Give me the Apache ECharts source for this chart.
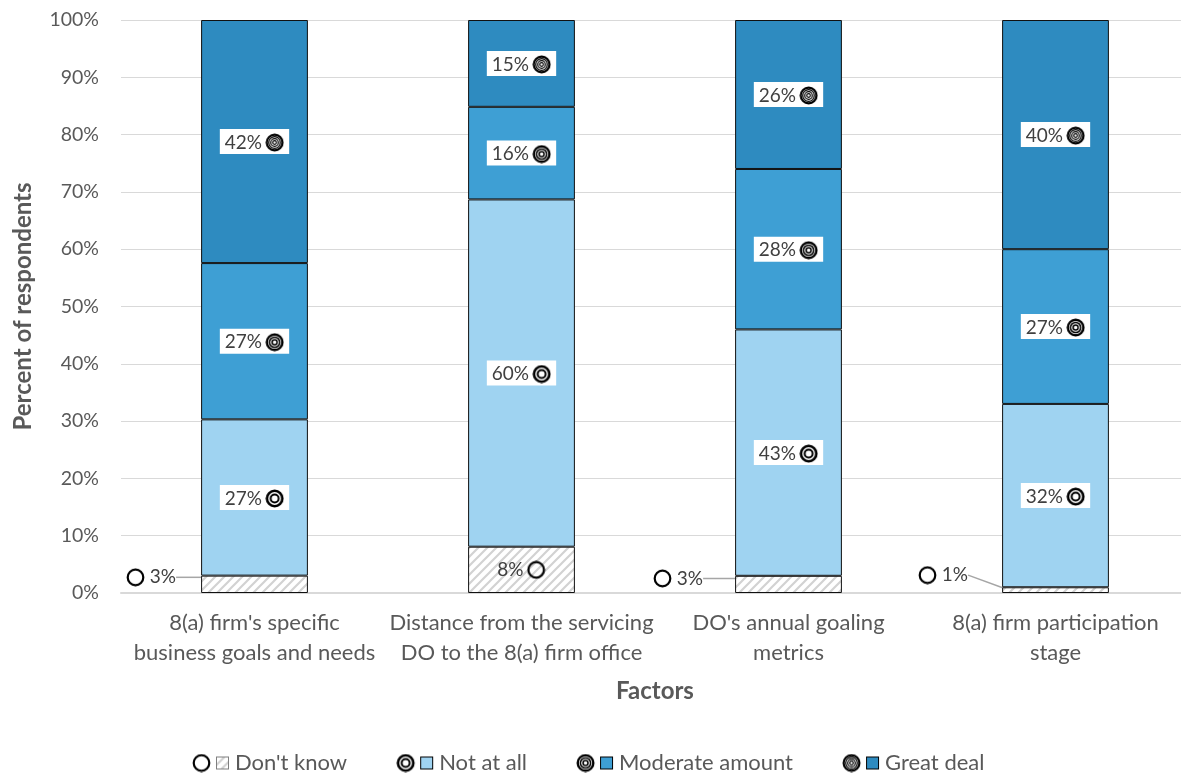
<!DOCTYPE html>
<html>
<head>
<meta charset="utf-8">
<script src="https://cdn.jsdelivr.net/npm/echarts@6/dist/echarts.min.js"></script>
<style>
  html, body { margin: 0; padding: 0; background: #fff; overflow: hidden; }
  /* plot area runs slightly past the right edge of the window */
  #chart { width: 1189px; height: 774px; }
</style>
</head>
<body>
<div id="chart"></div>
<script>
// Survey responses per factor (percent of respondents)
const categories = [
  "8(a) firm's specific\nbusiness goals and needs",
  "Distance from the servicing\nDO to the 8(a) firm office",
  "DO's annual goaling\nmetrics",
  "8(a) firm participation\nstage"
];
const seriesNames = ["Don't know", "Not at all", "Moderate amount", "Great deal"];
const dontKnow = [3, 8, 3, 1];
const notAtAll = [27, 60, 43, 32];
const moderate = [27, 16, 28, 27];
const greatDeal = [42, 15, 26, 40];
const yTicks = [0, 10, 20, 30, 40, 50, 60, 70, 80, 90, 100];

const FONT = 'Lato, "Open Sans", "Noto Sans", sans-serif';
const colors = ['#ffffff', '#9fd3f1', '#3e9fd4', '#2e8bc0'];

// Diagonal hatch used for "Don't know"
function hatchCanvas() {
  const c = document.createElement('canvas');
  c.width = 9; c.height = 9;
  const g = c.getContext('2d');
  g.fillStyle = '#ffffff';
  g.fillRect(0, 0, 9, 9);
  g.strokeStyle = '#d2d2d2';
  g.lineWidth = 2.2;
  g.beginPath();
  g.moveTo(-2, 11); g.lineTo(11, -2);
  g.moveTo(-2, 2); g.lineTo(2, -2);
  g.moveTo(7, 11); g.lineTo(11, 7);
  g.stroke();
  return c;
}
const hatch = hatchCanvas();

// Concentric ring marker; more rings = stronger response
function drawRings(g, cx, cy, level) {
  g.strokeStyle = '#000';
  const specs = [
    [[7.8, 2.2]],
    [[7.7, 2.6], [4.0, 2.0]],
    [[7.8, 2.4], [5.1, 1.5], [2.5, 1.5]],
    [[7.9, 2.2], [5.8, 1.2], [3.8, 1.2], [1.8, 1.2]]
  ][level];
  specs.forEach(([r, w]) => {
    g.lineWidth = w;
    g.beginPath();
    g.arc(cx, cy, r, 0, Math.PI * 2);
    g.stroke();
  });
}
function ringCanvas(level) {
  const c = document.createElement('canvas');
  c.width = 19; c.height = 19;
  drawRings(c.getContext('2d'), 9.5, 9.5, level);
  return c;
}
const rings = [0, 1, 2, 3].map(ringCanvas);

// Legend marker: ring + colour swatch
function legendIcon(level) {
  const c = document.createElement('canvas');
  c.width = 38; c.height = 19;
  const g = c.getContext('2d');
  drawRings(g, 9.5, 9.5, level);
  if (level === 0) {
    g.fillStyle = g.createPattern(hatch, 'repeat');
    g.fillRect(24, 3, 13, 13);
    g.strokeStyle = '#7f7f7f';
  } else {
    g.fillStyle = colors[level];
    g.fillRect(24, 3, 13, 13);
    g.strokeStyle = '#000';
  }
  g.lineWidth = 1;
  g.strokeRect(24.5, 3.5, 12, 12);
  return 'image://' + c.toDataURL();
}

const rawSeries = [dontKnow, notAtAll, moderate, greatDeal];
const totals = categories.map((_, i) => rawSeries.reduce((s, arr) => s + arr[i], 0));

const labelText = { fontSize: 19, color: '#404040', fontFamily: FONT };
function ringRich(level) {
  return { width: 19, height: 19, backgroundColor: { image: rings[level] } };
}

// Labels for the small "Don't know" segments sit outside the bar on the left
const outsideShift = { 0: { dist: 25, dy: -7 }, 2: { dist: 32, dy: -6 }, 3: { dist: 34, dy: -15 } };

const series = rawSeries.map((arr, s) => {
  const data = arr.map((v, i) => {
    const item = { value: v / totals[i] * 100, raw: v };
    if (s === 0) {
      if (outsideShift[i]) {
        item.label = {
          position: 'left',
          distance: outsideShift[i].dist,
          formatter: p => '{i|}{t| ' + p.data.raw + '%}',
          backgroundColor: 'transparent',
          padding: 0
        };
      } else {
        item.label = {
          position: 'inside',
          formatter: p => '{t|' + p.data.raw + '%} {i|}',
          backgroundColor: 'transparent',
          padding: 0
        };
      }
    }
    return item;
  });
  const cfg = {
    name: seriesNames[s],
    type: 'bar',
    stack: 'total',
    barWidth: '40%',
    data: data,
    itemStyle: {
      color: s === 0 ? { image: hatch, repeat: 'repeat' } : colors[s],
      borderColor: '#111',
      borderWidth: 1
    },
    emphasis: { disabled: true },
    label: {
      show: true,
      position: 'inside',
      formatter: p => '{t|' + p.data.raw + '%} {i|}',
      backgroundColor: '#ffffff',
      padding: [4, 5, 2, 5],
      rich: { t: labelText, i: ringRich(s) }
    }
  };
  if (s === 0) {
    cfg.labelLine = { show: true, lineStyle: { color: '#a6a6a6', width: 1.5 } };
    cfg.labelLayout = p => outsideShift[p.dataIndex] ? { dy: outsideShift[p.dataIndex].dy } : {};
  }
  return cfg;
});

const chart = echarts.init(document.getElementById('chart'), null, { renderer: 'canvas' });
chart.setOption({
  animation: false,
  textStyle: { fontFamily: FONT },
  grid: { left: 121, top: 20, right: 0, bottom: 181, containLabel: false },
  legend: {
    top: 747,
    left: 187,
    itemWidth: 38,
    itemHeight: 19,
    itemGap: 49,
    textStyle: { fontSize: 22, color: '#595959', fontFamily: FONT },
    data: seriesNames.map((n, i) => ({ name: n, icon: legendIcon(i) })),
    selectedMode: false
  },
  xAxis: {
    type: 'category',
    data: categories,
    name: 'Factors',
    nameLocation: 'middle',
    nameGap: 86,
    nameTextStyle: { fontSize: 24, fontWeight: 'bold', color: '#595959', fontFamily: FONT },
    axisLine: { lineStyle: { color: '#d9d9d9', width: 2 } },
    axisTick: { show: false },
    axisLabel: { fontSize: 22, color: '#595959', lineHeight: 30, margin: 15, interval: 0, fontFamily: FONT }
  },
  yAxis: {
    type: 'value',
    min: yTicks[0],
    max: yTicks[yTicks.length - 1],
    interval: yTicks[1] - yTicks[0],
    name: 'Percent of respondents',
    nameLocation: 'middle',
    nameGap: 86,
    nameTextStyle: { fontSize: 24, fontWeight: 'bold', color: '#595959', fontFamily: FONT },
    axisLine: { show: false },
    axisTick: { show: false },
    splitLine: { lineStyle: { color: '#d9d9d9', width: 1 } },
    axisLabel: { fontSize: 19.5, color: '#595959', margin: 22, formatter: '{value}%', fontFamily: FONT }
  },
  series: series
});
</script>
</body>
</html>
